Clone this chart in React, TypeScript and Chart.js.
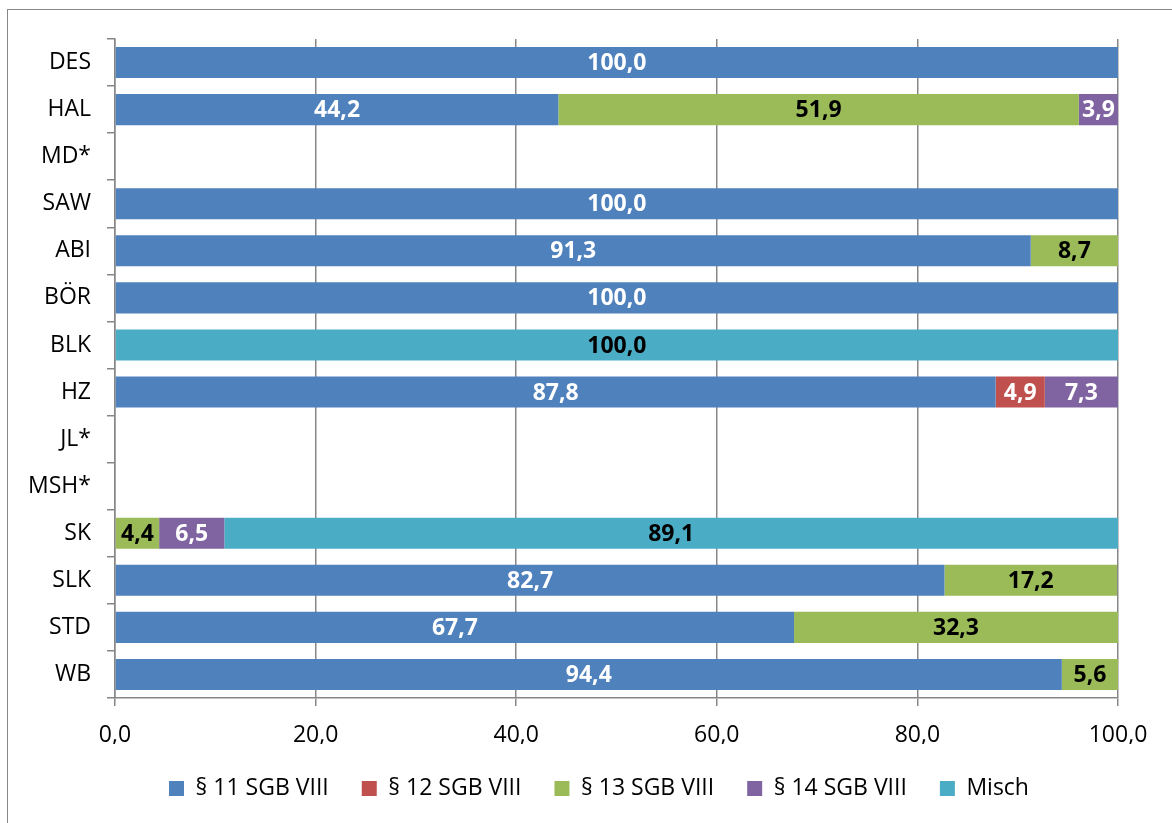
import React, { useEffect, useRef } from "react";
import { Chart, registerables } from "chart.js";

Chart.register(...registerables);

const categories = ["DES", "HAL", "MD*", "SAW", "ABI", "BÖR", "BLK", "HZ", "JL*", "MSH*", "SK", "SLK", "STD", "WB"];
const seriesNames = ["§ 11 SGB VIII", "§ 12 SGB VIII", "§ 13 SGB VIII", "§ 14 SGB VIII", "Misch"];
const s11 = [100.0, 44.2, null, 100.0, 91.3, 100.0, null, 87.8, null, null, null, 82.7, 67.7, 94.4];
const s12 = [null, null, null, null, null, null, null, 4.9, null, null, null, null, null, null];
const s13 = [null, 51.9, null, null, 8.7, null, null, null, null, null, 4.4, 17.2, 32.3, 5.6];
const s14 = [null, 3.9, null, null, null, null, null, 7.3, null, null, 6.5, null, null, null];
const misch = [null, null, null, null, null, null, 100.0, null, null, null, 89.1, null, null, null];
const colors = ["#4F81BD", "#C0504D", "#9BBB59", "#8064A2", "#4BACC6"];
const labelColors = ["#FFFFFF", "#FFFFFF", "#000000", "#FFFFFF", "#000000"];
const xTicks = [0, 20, 40, 60, 80, 100];

const FONT = "'Open Sans', 'Noto Sans', sans-serif";

const valueLabels = {
  id: "valueLabels",
  afterDatasetsDraw(chart: any) {
    const ctx = chart.ctx;
    ctx.save();
    ctx.font = `bold 23px ${FONT}`;
    ctx.textAlign = "center";
    ctx.textBaseline = "middle";
    chart.data.datasets.forEach((ds: any, di: number) => {
      const meta = chart.getDatasetMeta(di);
      meta.data.forEach((bar: any, i: number) => {
        const v = ds.data[i];
        if (v === null || v === undefined) return;
        const p = bar.getProps(["x", "y", "base"], true);
        const cx = (p.x + p.base) / 2;
        ctx.fillStyle = labelColors[di];
        ctx.fillText(v.toFixed(1).replace(".", ","), cx, p.y + 1);
      });
    });
    ctx.restore();
  },
};

const legendShift = {
  id: "legendShift",
  afterLayout(chart: any) {
    if (chart.legend) {
      chart.legend.left += 40;
      chart.legend.right += 40;
    }
  },
};

export default function App() {
  const ref = useRef<HTMLCanvasElement | null>(null);
  useEffect(() => {
    if (!ref.current) return;
    const data = [s11, s12, s13, s14, misch];
    const chart = new Chart(ref.current, {
      type: "bar",
      data: {
        labels: categories,
        datasets: seriesNames.map((n, i) => ({
          label: n,
          data: data[i] as any,
          backgroundColor: colors[i],
          borderWidth: 0,
          categoryPercentage: 1,
          barPercentage: 0.66,
        })),
      },
      options: {
        indexAxis: "y",
        animation: false,
        responsive: false,
        maintainAspectRatio: false,
        layout: { padding: { left: 0, top: 39, right: 54, bottom: 13 } },
        scales: {
          x: {
            stacked: true,
            min: 0,
            max: 100,
            afterBuildTicks: (s: any) => {
              s.ticks = xTicks.map((v) => ({ value: v }));
            },
            afterFit: (s: any) => {
              s.height = 46;
            },
            ticks: {
              color: "#000",
              font: { family: FONT, size: 23 },
              padding: 16,
              callback: (v: any) => Number(v).toFixed(1).replace(".", ","),
              maxRotation: 0,
            },
            grid: { color: "#878787", lineWidth: 1.5, tickLength: 8, drawTicks: true },
            border: { color: "#878787", width: 1.5 },
          },
          y: {
            stacked: true,
            afterFit: (s: any) => {
              s.width = 115;
            },
            ticks: {
              color: "#000",
              font: { family: FONT, size: 23 },
              padding: 16,
            },
            grid: { offset: true, drawOnChartArea: false, color: "#878787", lineWidth: 1.5, tickLength: 8 },
            border: { color: "#878787", width: 1.5 },
          },
        },
        plugins: {
          legend: {
            position: "bottom",
            labels: {
              color: "#000",
              font: { family: FONT, size: 23 },
              boxWidth: 15,
              boxHeight: 15,
              padding: 33,
            },
          },
          tooltip: { enabled: false },
        },
      },
      plugins: [valueLabels, legendShift],
    });
    return () => chart.destroy();
  }, []);
  return (
    <div style={{ position: "fixed", left: 0, top: 0, width: 1172, height: 823, background: "#fff" }}>
      <div
        style={{
          position: "absolute",
          left: 7,
          top: 9,
          width: 1200,
          height: 900,
          borderLeft: "1.5px solid #888",
          borderTop: "1.5px solid #888",
        }}
      />
      <canvas ref={ref} width={1172} height={823} style={{ position: "absolute", left: 0, top: 0 }} />
    </div>
  );
}
